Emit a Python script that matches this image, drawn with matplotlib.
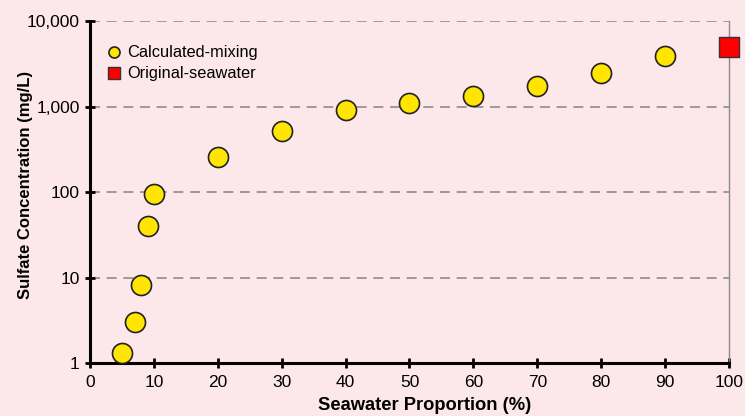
import matplotlib
matplotlib.use("Agg")
import matplotlib.pyplot as plt
from matplotlib.ticker import FixedLocator, FuncFormatter, NullLocator

plt.rcParams['font.family'] = ['Liberation Sans', 'DejaVu Sans']

# Mixing model: sulfate concentration vs seawater fraction
mix_pct = [5, 7, 8, 9, 10, 20, 30, 40, 50, 60, 70, 80, 90]
mix_sulfate = [1.31, 3.0, 8.2, 40, 95, 257, 516, 910, 1090, 1320, 1740, 2460, 3890]
sea_pct = [100]
sea_sulfate = [5000]

x_ticks = [0, 10, 20, 30, 40, 50, 60, 70, 80, 90, 100]
y_ticks = [1, 10, 100, 1000, 10000]

bg = '#fce8ea'
fig = plt.figure(figsize=(7.45, 4.16), dpi=100, facecolor=bg)
ax = fig.add_axes([0.1208, 0.1274, 0.8577, 0.8221], facecolor=bg)

ax.set_yscale('log')
ax.set_xlim(0, 100)
ax.set_ylim(1, 10000)

for y in y_ticks[1:]:
    ax.axhline(y, color='#8c8c8c', lw=1.2, ls=(0, (6, 4)), zorder=1)

ax.scatter(mix_pct, mix_sulfate, s=20**2 * 0.52, marker='o', facecolor='#ffe500',
           edgecolor='#222222', linewidth=1.2, zorder=3, label='Calculated-mixing', clip_on=False)
ax.scatter(sea_pct, sea_sulfate, s=20**2 * 0.52, marker='s', facecolor='#ff0000',
           edgecolor='#333333', linewidth=1.0, zorder=3, label='Original-seawater', clip_on=False)

ax.xaxis.set_major_locator(FixedLocator(x_ticks))
ax.yaxis.set_major_locator(FixedLocator(y_ticks))
ax.yaxis.set_minor_locator(NullLocator())
ax.yaxis.set_major_formatter(FuncFormatter(lambda v, p: f'{int(round(v)):,}'))

ax.tick_params(axis='both', which='major', direction='inout', length=7, width=2,
               labelsize=12.5, colors='black')
ax.tick_params(axis='x', pad=5)
ax.tick_params(axis='y', pad=4)

for s in ('left', 'bottom'):
    ax.spines[s].set_linewidth(2.2)
    ax.spines[s].set_color('black')
ax.spines['top'].set_visible(False)
ax.spines['right'].set_color('#8c8c8c')
ax.spines['right'].set_linewidth(1.0)

ax.set_xlabel('Seawater Proportion (%)', fontsize=13.2, fontweight='bold')
ax.xaxis.set_label_coords(0.524, -0.099)
ax.set_ylabel('Sulfate Concentration (mg/L)', fontsize=12, fontweight='bold')
ax.yaxis.set_label_coords(-0.089, 0.52)

leg = ax.legend(loc='upper left', bbox_to_anchor=(0.005, 0.964), frameon=False, fontsize=11.8,
                markerscale=0.55, handlelength=1.2, handletextpad=0.2, labelspacing=0.36,
                borderaxespad=0.3)

fig.savefig('out.png', dpi=100, facecolor=bg)
